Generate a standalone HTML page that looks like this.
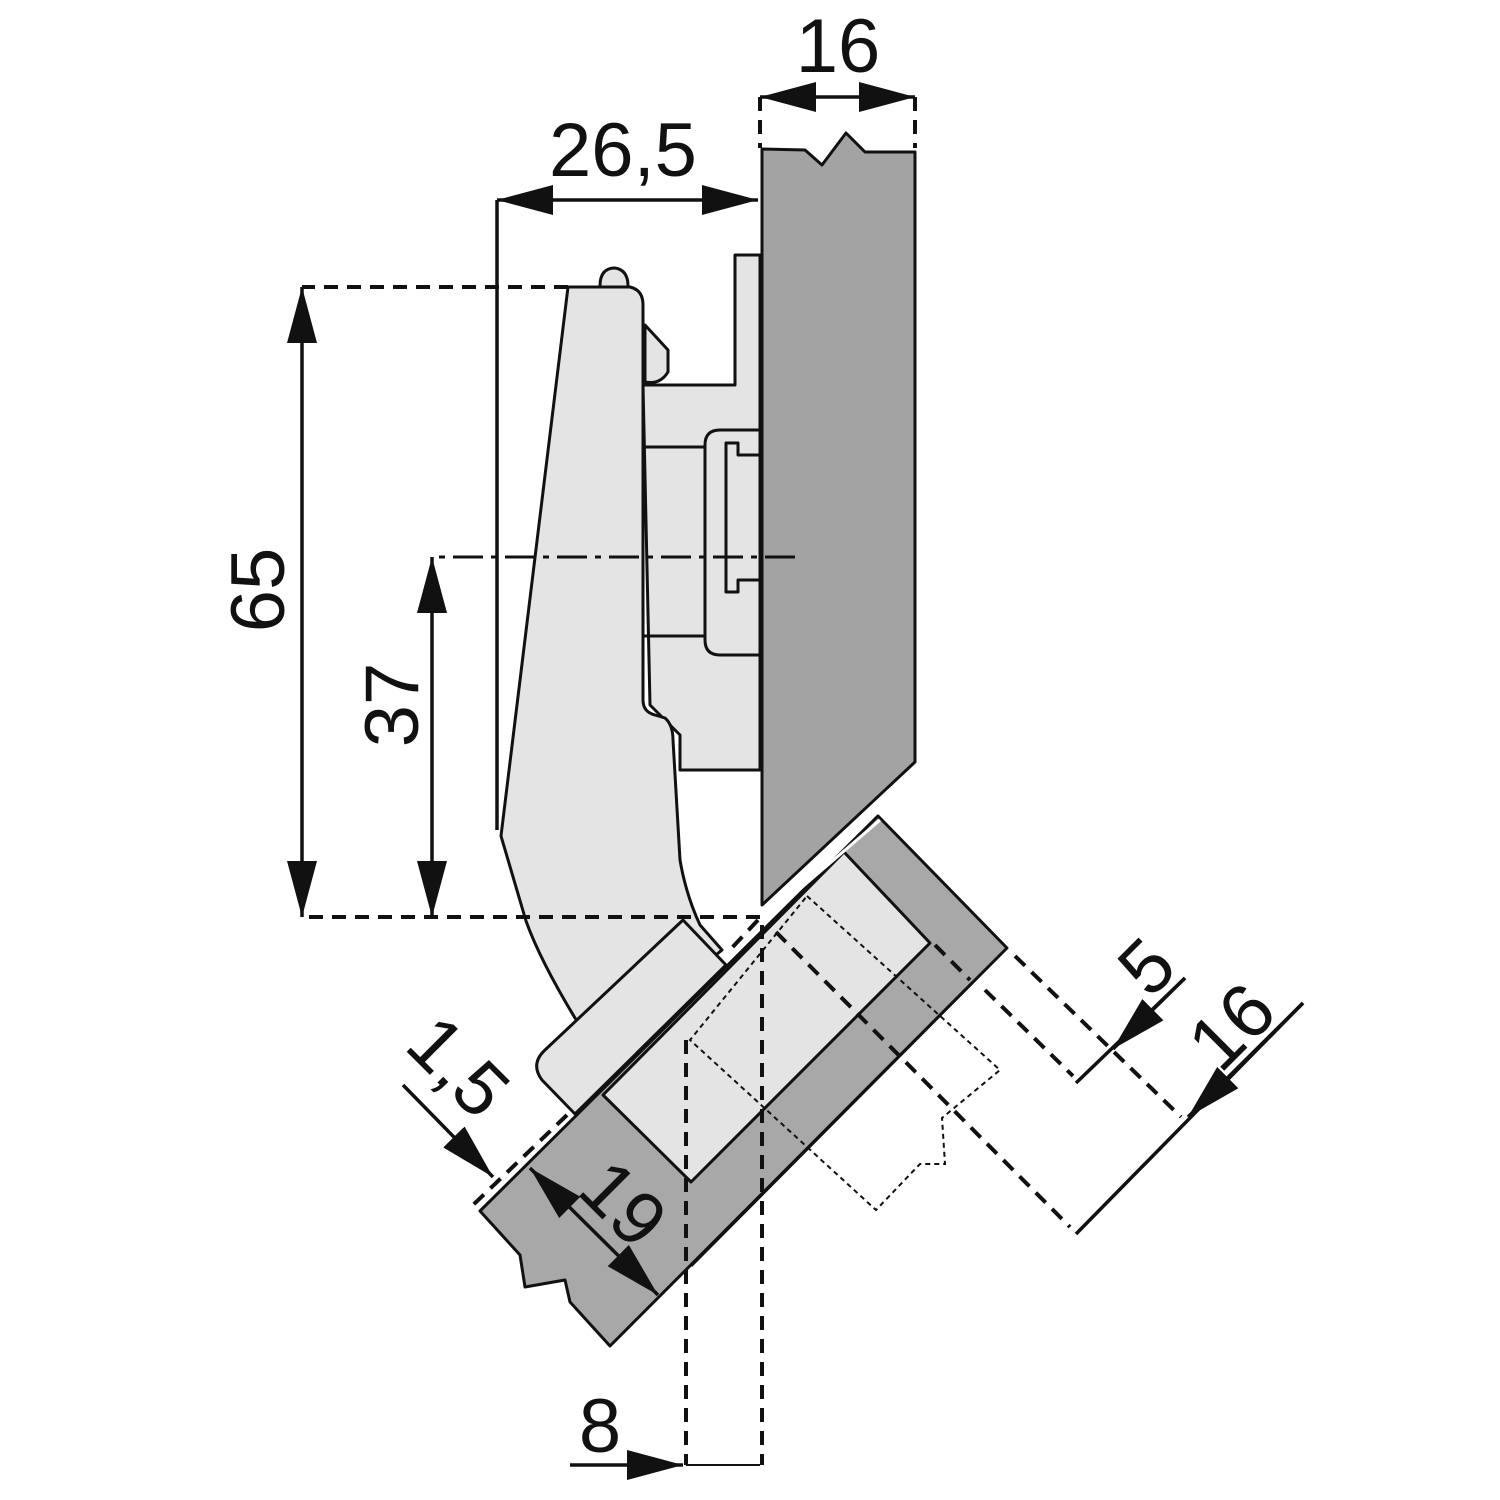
<!DOCTYPE html>
<html><head><meta charset="utf-8"><style>html,body{margin:0;padding:0;background:#fff}svg{display:block}</style></head>
<body>
<svg width="1500" height="1500" viewBox="0 0 1500 1500" xmlns="http://www.w3.org/2000/svg" font-family="Liberation Sans, sans-serif">
<defs>
<marker id="a" viewBox="0 0 56 30" refX="56" refY="15" markerWidth="56" markerHeight="30" markerUnits="userSpaceOnUse" orient="auto-start-reverse">
<path d="M0,0 L56,15 L0,30 Z" fill="#111"/></marker>
</defs>
<g stroke="#111" stroke-width="3" stroke-linejoin="round">
<!-- base plate -->
<path d="M735,255 L760,255 L760,770 L680,770 L680,735 L650,705 L643,385 L735,385 Z" fill="#e4e4e4"/>
<path d="M760,430 L720,430 Q705,430 705,445 L705,640 Q705,655 720,655 L760,655 M760,455 L738,455 L738,443 L726,443 L726,592 L738,592 L738,580 L760,580 M643,447 L705,447 M643,636 L705,636" fill="none"/>
<path d="M645,325 L668,350 L668,372 Q660,385 645,382 Z" fill="#e4e4e4"/>
<!-- cabinet side -->
<path d="M762,149 L805,150 L822,165 L846,133 L865,152 L915,152 L915,762 L762,905 Z" fill="#a3a3a3"/>
<!-- hinge arm -->
<path d="M600,286 Q600,268 615,268 Q628,270 628,286" fill="#e4e4e4"/>
<path d="M568,287 L630,287 Q643,290 643,305 L643,700 Q643,712 655,715 L665,718 Q673,725 673,740 L680,860 Q686,895 700,925 L722,950 L600,1050 L575,1018 Q540,960 526,921 L501,836 Z" fill="#e4e4e4"/>
<!-- door -->
<path d="M878,816 L1007,948 L610,1346 L570,1302 L565,1280 L525,1287 L520,1255 L480,1211 Z" fill="#a8a8a8"/>
<path d="M844,852 L930,943 L691,1182 L603,1095 Z" fill="#e4e4e4"/>
<path d="M973,982 L691,1266" fill="none"/>
<!-- hinge block over door -->
<path d="M683,920 L726,965 L575,1114 L542,1080 Q530,1064 545,1050 Z" fill="#e4e4e4"/>
<path d="M758,925 L880,820" fill="none" stroke="#fff" stroke-width="3"/>
</g>
<!-- hidden lines -->
<g fill="none" stroke="#111" stroke-width="2" stroke-dasharray="5,4">
<path d="M807,896 L1000,1070 L942,1118 L945,1164 L920,1164 L876,1210 L690,1040 Z"/>
</g>
<g fill="none" stroke="#111" stroke-width="4" stroke-dasharray="14,9">
<path d="M762,925 L762,1465 M686,1040 L686,1465"/>
<path d="M776,932 L1070,1227 M935,945 L970,980 M1015,956 L1181,1117 M985,990 L1073,1076"/>
<path d="M760,917 L302,917 M568,287 L302,287 M760,97 L760,148 M915,97 L915,148"/>
<path d="M567,1115 L473,1205 M758,920 L728,952"/>
</g>
<path d="M795,557 L432,557" stroke="#111" stroke-width="3" stroke-dasharray="30,8,6,8" fill="none"/>
<!-- dimension lines -->
<g stroke="#111" stroke-width="3.5" fill="none">
<path d="M497,200 L497,830"/>
<path d="M760,97 L915,97" marker-start="url(#a)" marker-end="url(#a)"/>
<path d="M497,200 L758,200" marker-start="url(#a)" marker-end="url(#a)"/>
<path d="M302,287 L302,917" marker-start="url(#a)" marker-end="url(#a)"/>
<path d="M432,557 L432,917" marker-start="url(#a)" marker-end="url(#a)"/>
<path d="M570,1465 L683,1465" marker-end="url(#a)"/>
<path d="M686,1465 L760,1465" stroke-width="2"/>
<path d="M1076,1083 L1185,978"/>
<path d="M1185,978 L1113,1049" marker-end="url(#a)"/>
<path d="M1076,1234 L1303,1003"/>
<path d="M1303,1003 L1188,1117" marker-end="url(#a)"/>
<path d="M403,1085 L493,1177" marker-end="url(#a)"/>
<path d="M530,1168 L658,1295" marker-start="url(#a)" marker-end="url(#a)"/>
</g>
<!-- labels -->
<g fill="#111" font-size="76" text-anchor="middle">
<text x="838" y="72">16</text>
<text x="623" y="176">26,5</text>
<text x="600" y="1452">8</text>
<text transform="translate(284,590) rotate(-90)">65</text>
<text transform="translate(418,705) rotate(-90)">37</text>
<text transform="translate(1165,985) rotate(-45)">5</text>
<text transform="translate(1250,1045) rotate(-45)">16</text>
<text transform="translate(440,1085) rotate(45)">1,5</text>
<text transform="translate(605,1222) rotate(45)">19</text>
</g>
</svg>
</body></html>
